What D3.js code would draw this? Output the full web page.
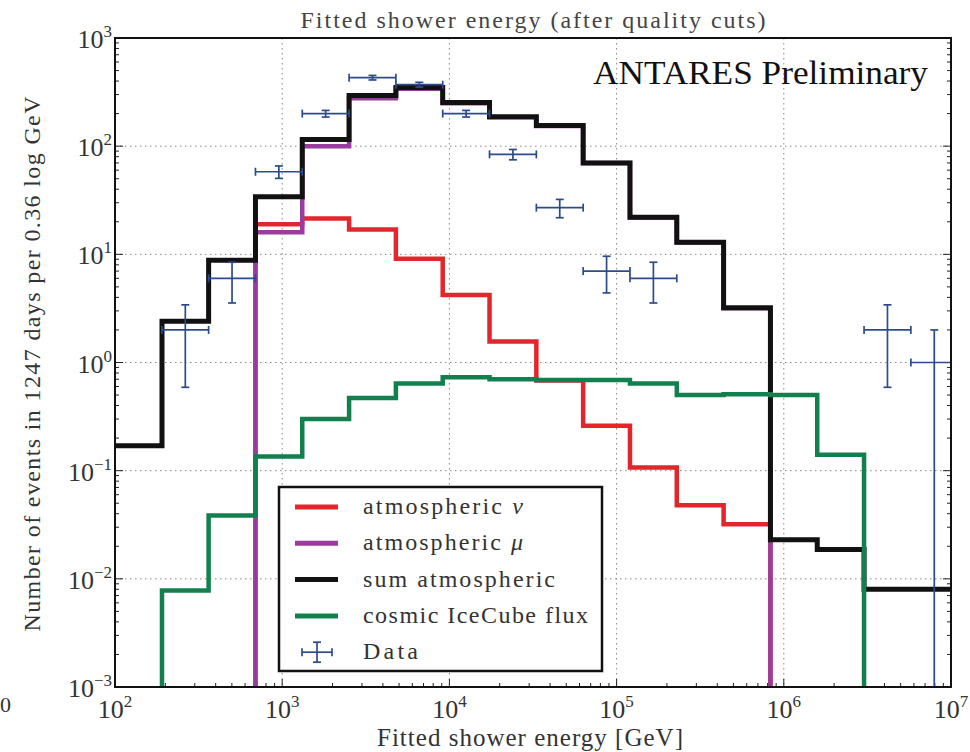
<!DOCTYPE html>
<html>
<head>
<meta charset="utf-8">
<script src="https://cdn.jsdelivr.net/npm/d3@7"></script>
<style>
  body { margin: 0; background: #fff; }
</style>
</head>
<body>
<div id="container"></div>
<script>

// bin edges of the histogram [GeV]
const binEdges = [100, 191, 363, 692, 1318, 2512, 4786, 9120, 17378, 33113, 63096,
                  120226, 229087, 436516, 831764, 1584893, 3019952, 5754399, 10964782];

// events per bin, one value per bin
const atmNu   = [0, 0, 0, 19, 21.4, 17, 9.1, 4.2, 1.56, 0.68, 0.26, 0.107, 0.048, 0.032, 0, 0, 0, 0];
const atmMu   = [0, 0, 0, 16, 100, 277, 339, 249, 185, 154, 69.7, 21.9, 12.85, 3.17, 0, 0, 0, 0];
const sumAtm  = [0.17, 2.4, 8.8, 34, 115, 294, 348, 253, 187, 155, 70, 22, 12.9, 3.2, 0.023, 0.0187, 0.008, 0.008];
const cosmic  = [0, 0.0078, 0.0385, 0.135, 0.30, 0.47, 0.64, 0.73, 0.70, 0.69, 0.69, 0.64, 0.50, 0.51, 0.50, 0.14, 0, 0];

// data points and their errors (0 = no point)
const dataN   = [0, 2, 6, 58, 200, 430, 370, 200, 84, 27, 7, 6, 0, 0, 0, 0, 2, 1];
const dataErr = [0, 1.41, 2.45, 7.6, 14.1, 20.7, 19.2, 14.1, 9.2, 5.2, 2.6, 2.45, 0, 0, 0, 0, 1.41, 1.0];

const xTicks = [1e2, 1e3, 1e4, 1e5, 1e6, 1e7];
const yTicks = [1e-3, 1e-2, 1e-1, 1e0, 1e1, 1e2, 1e3];

const legendItems = [
  { label: 'atmospheric ', greek: 'ν', color: '#e3262c' },
  { label: 'atmospheric ', greek: 'μ', color: '#9a3c9e' },
  { label: 'sum atmospheric', greek: '', color: '#111' },
  { label: 'cosmic IceCube flux', greek: '', color: '#12804e' },
  { label: 'Data', greek: '', color: '#2d4b8c', data: true }
];

const FONT = '"Liberation Serif"';

const width = 970, height = 752;
const margin = { top: 38, right: 19, bottom: 65, left: 115 };
const W = width - margin.left - margin.right;
const H = height - margin.top - margin.bottom;

const svg = d3.select('#container').append('svg')
    .attr('width', width)
    .attr('height', height)
    .style('background', '#fff');

const x = d3.scaleLog().domain([1e2, 1e7]).range([0, W]);
const y = d3.scaleLog().domain([1e-3, 1e3]).range([H, 0]);

const g = svg.append('g').attr('transform', `translate(${margin.left},${margin.top})`);

svg.append('defs').append('clipPath').attr('id', 'plotclip')
  .append('rect').attr('width', W).attr('height', H);

// grid
g.append('g').selectAll('line').data(xTicks.slice(1, -1)).join('line')
    .attr('x1', d => x(d)).attr('x2', d => x(d))
    .attr('y1', 0).attr('y2', H)
    .attr('stroke', '#888').attr('stroke-width', 1).attr('stroke-dasharray', '1.5,3.5');
g.append('g').selectAll('line').data(yTicks.slice(1, -1)).join('line')
    .attr('y1', d => y(d)).attr('y2', d => y(d))
    .attr('x1', 0).attr('x2', W)
    .attr('stroke', '#888').attr('stroke-width', 1).attr('stroke-dasharray', '1.5,3.5');

// minor/major ticks, inside
function minorVals(lo, hi) {
  let out = [];
  for (let e = lo; e < hi; e++) for (let m = 2; m < 10; m++) out.push(m * Math.pow(10, e));
  return out;
}
const ticksG = g.append('g').attr('stroke', '#222');
minorVals(2, 7).forEach(v => {
  ticksG.append('line').attr('x1', x(v)).attr('x2', x(v)).attr('y1', H).attr('y2', H - 4);
});
xTicks.forEach(v => {
  ticksG.append('line').attr('x1', x(v)).attr('x2', x(v)).attr('y1', H).attr('y2', H - 8);
});
minorVals(-3, 3).forEach(v => {
  ticksG.append('line').attr('x1', 0).attr('x2', 4).attr('y1', y(v)).attr('y2', y(v));
  ticksG.append('line').attr('x1', W).attr('x2', W - 4).attr('y1', y(v)).attr('y2', y(v));
});
yTicks.forEach(v => {
  ticksG.append('line').attr('x1', 0).attr('x2', 8).attr('y1', y(v)).attr('y2', y(v));
  ticksG.append('line').attr('x1', W).attr('x2', W - 8).attr('y1', y(v)).attr('y2', y(v));
});

// step histograms
const plot = g.append('g').attr('clip-path', 'url(#plotclip)');
const stepLine = d3.line()
    .x(d => x(d[0]))
    .y(d => d[1] > 0 ? y(d[1]) : H + 20)
    .curve(d3.curveStepAfter);

function drawStep(vals, color, sw) {
  const pts = vals.map((v, i) => [binEdges[i], v]);
  pts.push([binEdges[vals.length], vals[vals.length - 1]]);
  plot.append('path').datum(pts)
      .attr('d', stepLine)
      .attr('fill', 'none')
      .attr('stroke', color)
      .attr('stroke-width', sw)
      .attr('stroke-linejoin', 'miter');
}
drawStep(atmNu, legendItems[0].color, 4.5);
drawStep(atmMu, legendItems[1].color, 4.5);
drawStep(sumAtm, legendItems[2].color, 5);
drawStep(cosmic, legendItems[3].color, 4.5);

// data with error bars
const pts = dataN.map((n, i) => ({ n, e: dataErr[i], lo: binEdges[i], hi: binEdges[i + 1],
                                    c: Math.sqrt(binEdges[i] * binEdges[i + 1]) }))
                 .filter(d => d.n > 0);
const dcol = legendItems[4].color;
const dg = plot.append('g').attr('stroke', dcol).attr('stroke-width', 1.7);
const cap = 4;
pts.forEach(d => {
  const cy = y(d.n);
  const ytop = y(d.n + d.e);
  const ybot = d.n - d.e > 0 ? y(d.n - d.e) : H + 20;
  dg.append('line').attr('x1', x(d.lo)).attr('x2', x(d.hi)).attr('y1', cy).attr('y2', cy);
  dg.append('line').attr('x1', x(d.c)).attr('x2', x(d.c)).attr('y1', ytop).attr('y2', ybot);
  dg.append('line').attr('x1', x(d.lo)).attr('x2', x(d.lo)).attr('y1', cy - cap).attr('y2', cy + cap);
  dg.append('line').attr('x1', x(d.hi)).attr('x2', x(d.hi)).attr('y1', cy - cap).attr('y2', cy + cap);
  dg.append('line').attr('x1', x(d.c) - cap).attr('x2', x(d.c) + cap).attr('y1', ytop).attr('y2', ytop);
  if (d.n - d.e > 0)
    dg.append('line').attr('x1', x(d.c) - cap).attr('x2', x(d.c) + cap).attr('y1', ybot).attr('y2', ybot);
});

// frame
g.append('rect').attr('width', W).attr('height', H)
    .attr('fill', 'none').attr('stroke', '#111').attr('stroke-width', 2);

// helper: text with the serif face set on the element itself
function addText(parent) {
  return parent.append('text').style('font-family', FONT);
}

// tick labels
function expLabel(sel, v) {
  const e = Math.round(Math.log10(v));
  sel.append('tspan').style('font-family', FONT).text('10');
  sel.append('tspan').style('font-family', FONT).attr('dy', -11).attr('font-size', 17)
     .text(e < 0 ? '−' + (-e) : String(e));
}
xTicks.forEach(v => {
  const t = addText(g).attr('x', x(v)).attr('y', H + 31)
      .attr('text-anchor', 'middle').attr('font-size', 26).attr('fill', '#333');
  expLabel(t, v);
});
yTicks.forEach(v => {
  const t = addText(g).attr('x', -3).attr('y', y(v) + 10)
      .attr('text-anchor', 'end').attr('font-size', 26).attr('fill', '#333');
  expLabel(t, v);
});

// stray glyph at lower left edge
addText(svg).attr('x', 0).attr('y', 712).attr('font-size', 22).attr('fill', '#333').text('0');

// title and axis labels
addText(svg).attr('x', 533).attr('y', 28).attr('text-anchor', 'middle')
    .attr('font-size', 24).attr('fill', '#444')
    .attr('textLength', 465).attr('lengthAdjust', 'spacing')
    .text('Fitted shower energy (after quality cuts)');
addText(svg).attr('x', 530).attr('y', 746).attr('text-anchor', 'middle')
    .attr('font-size', 25).attr('fill', '#333')
    .attr('textLength', 306).attr('lengthAdjust', 'spacing')
    .text('Fitted shower energy [GeV]');
addText(svg).attr('transform', 'translate(40,364) rotate(-90)').attr('text-anchor', 'middle')
    .attr('font-size', 24).attr('fill', '#333')
    .attr('textLength', 535).attr('lengthAdjust', 'spacing')
    .text('Number of events in 1247 days per 0.36 log GeV');

addText(svg).attr('x', 593).attr('y', 84)
    .attr('font-size', 34).attr('fill', '#111')
    .attr('textLength', 335).attr('lengthAdjust', 'spacingAndGlyphs')
    .text('ANTARES Preliminary');

// legend
const lg = svg.append('g');
lg.append('rect').attr('x', 279).attr('y', 487).attr('width', 323).attr('height', 184)
    .attr('fill', '#fff').attr('stroke', '#111').attr('stroke-width', 2.5);
const legendWidths = [160, 160, 192, 225, 55];
legendItems.forEach((it, i) => {
  const ly = 507 + i * 36.3;
  if (it.data) {
    const seg = [[302, 332, ly, ly], [317, 317, ly - 10, ly + 10], [302, 302, ly - 4, ly + 4],
                 [332, 332, ly - 4, ly + 4], [313, 321, ly - 10, ly - 10], [313, 321, ly + 10, ly + 10]];
    seg.forEach(c => lg.append('line').attr('x1', c[0]).attr('x2', c[1]).attr('y1', c[2]).attr('y2', c[3])
        .attr('stroke', it.color).attr('stroke-width', 1.7));
  } else {
    lg.append('line').attr('x1', 295).attr('x2', 338).attr('y1', ly).attr('y2', ly)
        .attr('stroke', it.color).attr('stroke-width', 5);
  }
  const t = addText(lg).attr('x', 363).attr('y', ly + 7).attr('font-size', 24).attr('fill', '#333')
      .attr('textLength', legendWidths[i]).attr('lengthAdjust', 'spacing');
  t.append('tspan').style('font-family', FONT).text(it.label);
  if (it.greek) t.append('tspan').style('font-family', FONT).attr('font-style', 'italic').text(it.greek);
});

</script>
</body>
</html>
